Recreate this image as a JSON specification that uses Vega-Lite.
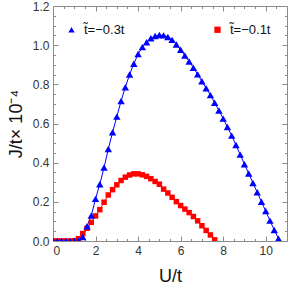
{
  "$schema": "https://vega.github.io/schema/vega-lite/v6.json",
  "width": 234,
  "height": 235,
  "autosize": "none",
  "padding": {"left": 53, "top": 6, "right": 1, "bottom": 47},
  "background": "white",
  "config": {
    "view": {"stroke": "#8c8c8c", "strokeWidth": 1},
    "font": "Liberation Sans",
    "axis": {"domain": false, "grid": false, "tickColor": "#8c8c8c", "labelColor": "#333333", "labelFontSize": 12, "labelFont": "Liberation Sans"}
  },
  "data": {"values": [
    {"s":"t̃=−0.3t","U":0,"J":0},{"s":"t̃=−0.3t","U":0.2,"J":0},{"s":"t̃=−0.3t","U":0.4,"J":0},{"s":"t̃=−0.3t","U":0.6,"J":0},{"s":"t̃=−0.3t","U":0.8,"J":0},{"s":"t̃=−0.3t","U":1.0,"J":0},{"s":"t̃=−0.3t","U":1.2,"J":0.002},
    {"s":"t̃=−0.3t","U":1.4,"J":0.02},{"s":"t̃=−0.3t","U":1.6,"J":0.075},{"s":"t̃=−0.3t","U":1.8,"J":0.13},{"s":"t̃=−0.3t","U":2.0,"J":0.215},{"s":"t̃=−0.3t","U":2.2,"J":0.29},{"s":"t̃=−0.3t","U":2.4,"J":0.375},{"s":"t̃=−0.3t","U":2.6,"J":0.47},{"s":"t̃=−0.3t","U":2.8,"J":0.555},{"s":"t̃=−0.3t","U":3.0,"J":0.635},{"s":"t̃=−0.3t","U":3.2,"J":0.715},{"s":"t̃=−0.3t","U":3.4,"J":0.785},{"s":"t̃=−0.3t","U":3.6,"J":0.85},{"s":"t̃=−0.3t","U":3.8,"J":0.905},{"s":"t̃=−0.3t","U":4.0,"J":0.955},{"s":"t̃=−0.3t","U":4.2,"J":0.99},{"s":"t̃=−0.3t","U":4.4,"J":1.015},{"s":"t̃=−0.3t","U":4.6,"J":1.035},{"s":"t̃=−0.3t","U":4.8,"J":1.047},{"s":"t̃=−0.3t","U":5.0,"J":1.052},{"s":"t̃=−0.3t","U":5.2,"J":1.05},{"s":"t̃=−0.3t","U":5.4,"J":1.042},{"s":"t̃=−0.3t","U":5.6,"J":1.027},{"s":"t̃=−0.3t","U":5.8,"J":1.003},{"s":"t̃=−0.3t","U":6.0,"J":0.977},{"s":"t̃=−0.3t","U":6.2,"J":0.947},{"s":"t̃=−0.3t","U":6.4,"J":0.917},{"s":"t̃=−0.3t","U":6.6,"J":0.885},{"s":"t̃=−0.3t","U":6.8,"J":0.851},{"s":"t̃=−0.3t","U":7.0,"J":0.816},{"s":"t̃=−0.3t","U":7.2,"J":0.78},{"s":"t̃=−0.3t","U":7.4,"J":0.745},{"s":"t̃=−0.3t","U":7.6,"J":0.706},{"s":"t̃=−0.3t","U":7.8,"J":0.666},{"s":"t̃=−0.3t","U":8.0,"J":0.625},{"s":"t̃=−0.3t","U":8.2,"J":0.582},{"s":"t̃=−0.3t","U":8.4,"J":0.538},{"s":"t̃=−0.3t","U":8.6,"J":0.49},{"s":"t̃=−0.3t","U":8.8,"J":0.441},{"s":"t̃=−0.3t","U":9.0,"J":0.392},{"s":"t̃=−0.3t","U":9.2,"J":0.345},{"s":"t̃=−0.3t","U":9.4,"J":0.296},{"s":"t̃=−0.3t","U":9.6,"J":0.249},{"s":"t̃=−0.3t","U":9.8,"J":0.2},{"s":"t̃=−0.3t","U":10.0,"J":0.153},{"s":"t̃=−0.3t","U":10.2,"J":0.104},{"s":"t̃=−0.3t","U":10.4,"J":0.056},{"s":"t̃=−0.3t","U":10.6,"J":0.012},
    {"s":"t̃=−0.1t","U":0,"J":0},{"s":"t̃=−0.1t","U":0.2,"J":0},{"s":"t̃=−0.1t","U":0.4,"J":0},{"s":"t̃=−0.1t","U":0.6,"J":0},{"s":"t̃=−0.1t","U":0.8,"J":0},{"s":"t̃=−0.1t","U":1.0,"J":0.002},{"s":"t̃=−0.1t","U":1.2,"J":0.012},{"s":"t̃=−0.1t","U":1.4,"J":0.038},{"s":"t̃=−0.1t","U":1.6,"J":0.065},{"s":"t̃=−0.1t","U":1.8,"J":0.095},{"s":"t̃=−0.1t","U":2.0,"J":0.128},{"s":"t̃=−0.1t","U":2.2,"J":0.16},{"s":"t̃=−0.1t","U":2.4,"J":0.198},{"s":"t̃=−0.1t","U":2.6,"J":0.235},{"s":"t̃=−0.1t","U":2.8,"J":0.262},{"s":"t̃=−0.1t","U":3.0,"J":0.287},{"s":"t̃=−0.1t","U":3.2,"J":0.309},{"s":"t̃=−0.1t","U":3.4,"J":0.326},{"s":"t̃=−0.1t","U":3.6,"J":0.337},{"s":"t̃=−0.1t","U":3.8,"J":0.343},{"s":"t̃=−0.1t","U":4.0,"J":0.343},{"s":"t̃=−0.1t","U":4.2,"J":0.338},{"s":"t̃=−0.1t","U":4.4,"J":0.33},{"s":"t̃=−0.1t","U":4.6,"J":0.318},{"s":"t̃=−0.1t","U":4.8,"J":0.304},{"s":"t̃=−0.1t","U":5.0,"J":0.29},{"s":"t̃=−0.1t","U":5.2,"J":0.265},{"s":"t̃=−0.1t","U":5.4,"J":0.245},{"s":"t̃=−0.1t","U":5.6,"J":0.223},{"s":"t̃=−0.1t","U":5.8,"J":0.201},{"s":"t̃=−0.1t","U":6.0,"J":0.181},{"s":"t̃=−0.1t","U":6.2,"J":0.163},{"s":"t̃=−0.1t","U":6.4,"J":0.145},{"s":"t̃=−0.1t","U":6.6,"J":0.125},{"s":"t̃=−0.1t","U":6.8,"J":0.103},{"s":"t̃=−0.1t","U":7.0,"J":0.078},{"s":"t̃=−0.1t","U":7.2,"J":0.054},{"s":"t̃=−0.1t","U":7.4,"J":0.031},{"s":"t̃=−0.1t","U":7.6,"J":0.006}
  ]},
  "resolve": {"axis": {"x": "independent", "y": "independent"}},
  "layer": [
    {
      "transform": [{"filter": "datum.s === 't̃=−0.3t'"}],
      "mark": {"type": "line", "color": "#0000ff", "strokeWidth": 1, "clip": true},
      "encoding": {
        "x": {"field": "U", "type": "quantitative", "scale": {"domain": [0, 11], "nice": false},
          "axis": {"orient": "bottom", "values": [0, 2, 4, 6, 8, 10], "tickSize": -5, "labelPadding": 9, "title": "U/t", "titleFontSize": 18, "titleFontWeight": "normal", "titlePadding": 11, "titleColor": "#111111"}},
        "y": {"field": "J", "type": "quantitative", "scale": {"domain": [0, 1.2], "nice": false},
          "axis": {"orient": "left", "values": [0, 0.2, 0.4, 0.6, 0.8, 1.0, 1.2], "format": ".1f", "tickSize": -5, "labelPadding": 9, "title": "J/t× 10⁻⁴", "titleFontSize": 18, "titleFontWeight": "normal", "titlePadding": 7, "titleColor": "#111111"}}
      }
    },
    {
      "transform": [{"filter": "datum.s === 't̃=−0.1t'"}],
      "mark": {"type": "line", "color": "#ff0000", "strokeWidth": 1, "clip": true},
      "encoding": {
        "x": {"field": "U", "type": "quantitative",
          "axis": {"orient": "bottom", "values": [0.5,1,1.5,2.5,3,3.5,4.5,5,5.5,6.5,7,7.5,8.5,9,9.5,10.5], "tickSize": -2.5, "labels": false, "title": null}},
        "y": {"field": "J", "type": "quantitative",
          "axis": {"orient": "left", "values": [0.05,0.1,0.15,0.25,0.3,0.35,0.45,0.5,0.55,0.65,0.7,0.75,0.85,0.9,0.95,1.05,1.1,1.15], "tickSize": -2.5, "labels": false, "title": null}}
      }
    },
    {
      "transform": [{"filter": "datum.s === 't̃=−0.1t'"}],
      "mark": {"type": "point", "filled": true, "opacity": 1, "clip": true},
      "encoding": {
        "x": {"field": "U", "type": "quantitative",
          "axis": {"orient": "top", "values": [0, 2, 4, 6, 8, 10], "tickSize": -5, "labels": false, "title": null}},
        "y": {"field": "J", "type": "quantitative",
          "axis": {"orient": "right", "values": [0, 0.2, 0.4, 0.6, 0.8, 1.0, 1.2], "tickSize": -5, "labels": false, "title": null}},
        "color": {"field": "s", "type": "nominal", "scale": {"domain": ["t̃=−0.3t", "t̃=−0.1t"], "range": ["#0000ff", "#ff0000"]},
          "legend": {"title": null, "orient": "none", "legendX": 12, "legendY": 17, "direction": "horizontal", "columns": 2, "columnPadding": 86, "labelFontSize": 13, "labelColor": "#111111", "labelFont": "Liberation Sans", "symbolSize": 40, "labelOffset": 6}},
        "shape": {"field": "s", "type": "nominal", "scale": {"domain": ["t̃=−0.3t", "t̃=−0.1t"], "range": ["triangle-up", "square"]}},
        "size": {"value": 30}
      }
    },
    {
      "transform": [{"filter": "datum.s === 't̃=−0.3t'"}],
      "mark": {"type": "point", "filled": true, "opacity": 1, "clip": true},
      "encoding": {
        "x": {"field": "U", "type": "quantitative",
          "axis": {"orient": "top", "values": [0.5,1,1.5,2.5,3,3.5,4.5,5,5.5,6.5,7,7.5,8.5,9,9.5,10.5], "tickSize": -2.5, "labels": false, "title": null}},
        "y": {"field": "J", "type": "quantitative",
          "axis": {"orient": "right", "values": [0.05,0.1,0.15,0.25,0.3,0.35,0.45,0.5,0.55,0.65,0.7,0.75,0.85,0.9,0.95,1.05,1.1,1.15], "tickSize": -2.5, "labels": false, "title": null}},
        "color": {"field": "s", "type": "nominal"},
        "shape": {"field": "s", "type": "nominal"},
        "size": {"value": 55}
      }
    }
  ]
}
